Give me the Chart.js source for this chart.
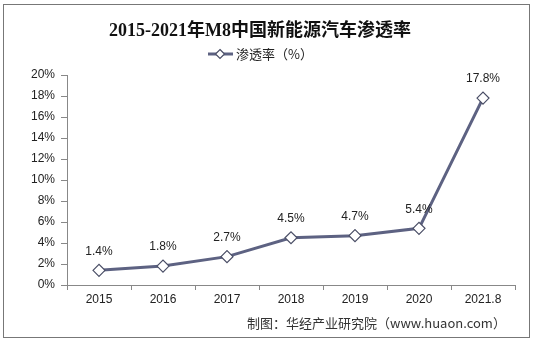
<!DOCTYPE html>
<html>
<head>
<meta charset="utf-8">
<script src="https://cdn.jsdelivr.net/npm/chart.js@4/dist/chart.umd.min.js"></script>
<style>
  html, body { margin: 0; padding: 0; background: #fff; }
  #wrap { width: 536px; height: 346px; }
</style>
</head>
<body>
<div id="wrap"><canvas id="c" width="536" height="346"></canvas></div>
<script>
// 2015–2021 (Aug) NEV penetration rate in China
const categories = ['2015', '2016', '2017', '2018', '2019', '2020', '2021.8'];
const penetration = [1.4, 1.8, 2.7, 4.5, 4.7, 5.4, 17.8];
const yTicks = [0, 2, 4, 6, 8, 10, 12, 14, 16, 18, 20];

const titleText = '2015-2021年M8中国新能源汽车渗透率';
const legendText = '渗透率（%）';
const sourceText = '制图：华经产业研究院（www.huaon.com）';

const lineColor = '#5d6282';
const cjk = '"Noto Sans CJK SC", "Liberation Sans", sans-serif';
const latin = '"Liberation Sans", Arial, sans-serif';

// Frame, title, legend and source note
const decorations = {
  id: 'decorations',
  beforeDraw(chart) {
    const ctx = chart.ctx;
    ctx.save();
    ctx.fillStyle = '#fff';
    ctx.fillRect(0, 0, chart.width, chart.height);
    ctx.strokeStyle = '#777';
    ctx.lineWidth = 1;
    ctx.strokeRect(3.5, 4.5, 526, 333);
    ctx.restore();
  },
  afterDraw(chart) {
    const ctx = chart.ctx;
    ctx.save();
    // title
    ctx.fillStyle = '#111';
    ctx.font = 'bold 18px "Liberation Serif", "Noto Sans CJK SC", serif';
    ctx.textAlign = 'center';
    ctx.textBaseline = 'middle';
    ctx.fillText(titleText, 260, 31);
    // legend
    ctx.strokeStyle = lineColor;
    ctx.lineWidth = 3;
    ctx.beginPath();
    ctx.moveTo(208, 54);
    ctx.lineTo(233, 54);
    ctx.stroke();
    drawDiamond(ctx, 220, 54, 4.5);
    ctx.fillStyle = '#222';
    ctx.font = '13px ' + cjk;
    ctx.textAlign = 'left';
    ctx.fillText(legendText, 236, 54);
    // value labels
    const meta = chart.getDatasetMeta(0);
    ctx.font = '12px ' + latin;
    ctx.textAlign = 'center';
    ctx.fillStyle = '#222';
    meta.data.forEach((pt, i) => {
      ctx.fillText(penetration[i].toFixed(1) + '%', pt.x, pt.y - 19);
    });
    // source note
    ctx.font = '13px ' + cjk;
    ctx.textAlign = 'left';
    ctx.fillStyle = '#333';
    ctx.fillText(sourceText, 247, 323);
    ctx.restore();
  }
};

function drawDiamond(ctx, x, y, r) {
  ctx.save();
  ctx.beginPath();
  ctx.moveTo(x, y - r);
  ctx.lineTo(x + r, y);
  ctx.lineTo(x, y + r);
  ctx.lineTo(x - r, y);
  ctx.closePath();
  ctx.fillStyle = '#fff';
  ctx.fill();
  ctx.strokeStyle = '#4a4e66';
  ctx.lineWidth = 1.2;
  ctx.stroke();
  ctx.restore();
}

new Chart(document.getElementById('c'), {
  type: 'line',
  data: {
    labels: categories,
    datasets: [{
      label: legendText,
      data: penetration,
      borderColor: lineColor,
      borderWidth: 3,
      pointStyle: 'rectRot',
      pointRadius: 6,
      pointBackgroundColor: '#fff',
      pointBorderColor: '#4a4e66',
      pointBorderWidth: 1.2,
      tension: 0
    }]
  },
  options: {
    responsive: false,
    animation: false,
    layout: { padding: { left: 0, right: 21, top: 75, bottom: 41 } },
    plugins: {
      legend: { display: false },
      title: { display: false },
      tooltip: { enabled: false }
    },
    scales: {
      x: {
        offset: true,
        grid: { drawOnChartArea: false, drawTicks: true, tickLength: 5, color: '#888', offset: true },
        border: { color: '#888' },
        ticks: { color: '#222', font: { family: latin, size: 12 }, padding: 2, maxRotation: 0 },
        afterFit(scale) { scale.height = 20; }
      },
      y: {
        min: 0,
        max: 20,
        afterBuildTicks(scale) { scale.ticks = yTicks.map(v => ({ value: v })); },
        grid: { drawOnChartArea: false, drawTicks: true, tickLength: 6, color: '#888' },
        border: { color: '#888' },
        ticks: {
          color: '#222',
          font: { family: latin, size: 12 },
          padding: 6,
          callback: v => v + '%'
        },
        afterFit(scale) { scale.width = 67; }
      }
    }
  },
  plugins: [decorations]
});
</script>
</body>
</html>
